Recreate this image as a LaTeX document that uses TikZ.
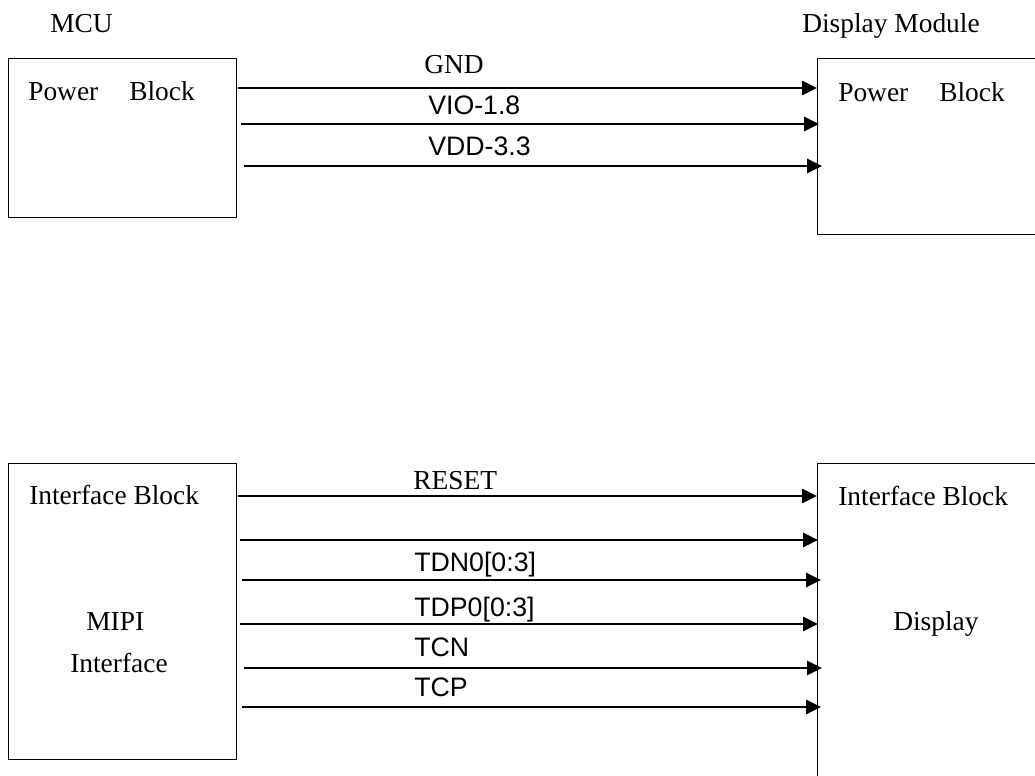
\documentclass[tikz,border=0pt]{standalone}
\usepackage{fontspec}
\setmainfont{Liberation Serif}
\newfontfamily\arialfont{Liberation Sans}
\usetikzlibrary{arrows.meta}

\begin{document}
\begin{tikzpicture}[
  x=0.025cm, y=-0.025cm,
  >={Triangle[length=10.5pt,width=10pt]},
  block/.style={draw, line width=0.9pt, anchor=north west, inner sep=0pt},
  txt/.style={anchor=base west, inner sep=0pt, font=\fontsize{19.5}{22}\selectfont},
  sig/.style={anchor=base west, inner sep=0pt, font=\arialfont\fontsize{19}{22}\selectfont},
  wire/.style={->, line width=1.2pt}
]
  \clip (0,0) rectangle (1035,776);

  \node[txt] (mcu) at (50,32) {MCU};
  \node[txt] (dm) at (802,32) {Display Module};

  \node[block, minimum width=5.7cm, minimum height=3.975cm] (pl) at (8,58) {};
  \node[block, minimum width=6cm, minimum height=4.4cm] (pr) at (817,58) {};
  \node[txt] (plt) at (28,100) {Power\hspace{22pt}Block};
  \node[txt] (prt) at (838,101) {Power\hspace{22pt}Block};

  \foreach \n/\sx/\y/\dx in {gnd/238/88/0, vio/241/124/2, vdd/244/166/5} {
    \coordinate (\n) at (\sx,\y);
    \draw[wire] (\n) -- ([xshift=\dx*0.025cm]pr.west |- \n);
  }
  \node[txt] (lgnd) at (424,73) {GND};
  \node[sig] (lvio) at (428,114) {VIO-1.8};
  \node[sig] (lvdd) at (428,155) {VDD-3.3};

  \node[block, minimum width=5.7cm, minimum height=7.4cm] (il) at (8,463) {};
  \node[block, minimum width=6cm, minimum height=8.5cm] (ir) at (817,463) {};
  \node[txt] (ilt) at (29,504) {Interface Block};
  \node[txt] (mipi) at (86,630) {MIPI};
  \node[txt] (intf) at (70,672) {Interface};
  \node[txt] (irt) at (838,505) {Interface Block};
  \node[txt] (disp) at (893,630) {Display};

  \foreach \n/\sx/\y/\dx in {rst/238/496/0, sa/240/540/1, sb/242/580/4, sc/240/624/1, sd/244/668/5, se/242/707/4} {
    \coordinate (\n) at (\sx,\y);
    \draw[wire] (\n) -- ([xshift=\dx*0.025cm]ir.west |- \n);
  }
  \node[txt] (lrst) at (413,489) {RESET};
  \node[sig] (ltdn) at (414,571) {TDN0[0:3]};
  \node[sig] (ltdp) at (414,616) {TDP0[0:3]};
  \node[sig] (ltcn) at (414,656) {TCN};
  \node[sig] (ltcp) at (414,696) {TCP};
\end{tikzpicture}
\end{document}
